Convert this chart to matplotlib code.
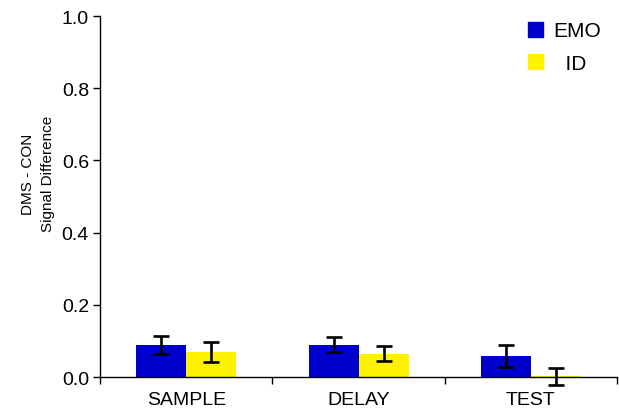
import numpy as np
import matplotlib
matplotlib.use('Agg')
import matplotlib.pyplot as plt
from matplotlib.patches import Patch
from matplotlib.ticker import FixedLocator, NullFormatter

plt.rcParams['font.family'] = ['Liberation Sans', 'DejaVu Sans']

phases = ['SAMPLE', 'DELAY', 'TEST']
emo_mean = [0.089, 0.089, 0.058]
emo_err = [0.026, 0.021, 0.030]
id_mean = [0.069, 0.065, 0.002]
id_err = [0.027, 0.020, 0.024]

blue = '#0000cc'
yellow = '#fff200'

fig = plt.figure(figsize=(6.19, 4.10), dpi=100)
ax = fig.add_axes([0.1616, 0.078, 0.8352, 0.8805])

x = np.arange(len(phases))
w = 0.29
err_kw = dict(ecolor='black', elinewidth=1.9, capsize=5.5, capthick=1.9)
b1 = ax.bar(x - w / 2, emo_mean, w, color=blue, yerr=emo_err, error_kw=err_kw)
b2 = ax.bar(x + w / 2, id_mean, w, color=yellow, yerr=id_err, error_kw=err_kw)
# let the whiskers hang below the zero line
for bars in (b1, b2):
    for artist in bars.errorbar.lines[1] + bars.errorbar.lines[2]:
        artist.set_clip_on(False)

ax.set_xlim(-0.5, 2.5)
ax.set_ylim(0, 1.0)
yt = np.arange(0, 1.01, 0.2)
ax.set_yticks(yt)
ax.set_yticklabels([f'{v:.1f}' for v in yt])
ax.set_xticks(x)
ax.set_xticklabels(phases)
ax.xaxis.set_minor_locator(FixedLocator([-0.5, 0.5, 1.5, 2.5]))
ax.xaxis.set_minor_formatter(NullFormatter())
ax.tick_params(axis='x', which='major', length=0, labelsize=14, pad=10)
ax.tick_params(axis='x', which='minor', length=5, width=1, direction='out')
ax.tick_params(axis='y', length=5, width=1, direction='out', labelsize=14, pad=3)

for s in ('top', 'right'):
    ax.spines[s].set_visible(False)
ax.spines['left'].set_linewidth(1)
ax.spines['bottom'].set_linewidth(1)

ax.set_ylabel('DMS - CON\nSignal Difference', fontsize=11, linespacing=1.5)
ax.yaxis.set_label_coords(-0.088, 0.565)

handles = [Patch(color=blue), Patch(color=yellow)]
ax.legend(handles, ['EMO', '  ID'], loc='upper right', bbox_to_anchor=(1.006, 1.037),
          frameon=False, fontsize=15, handlelength=0.75, handleheight=0.75,
          handletextpad=0.5, labelspacing=0.65)

fig.savefig('out.png', dpi=100)
